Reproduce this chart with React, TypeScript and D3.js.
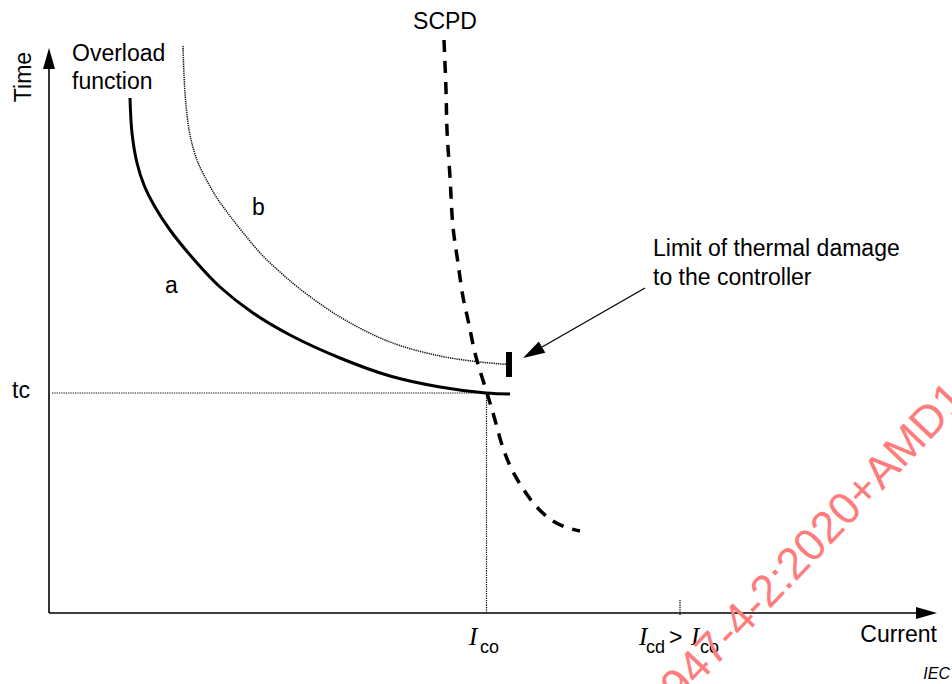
import React from "react";
import * as d3 from "d3";

// Schematic units: current (x) and time (y), origin at the axes' crossing
const curveA: [number, number][] = [
  [81, 515], [83, 480], [88, 450], [95, 428], [106, 406], [121, 383], [148, 350], [171, 326],
  [204, 300], [241, 278], [291, 255], [341, 237], [391, 226], [437, 220], [461, 219],
];
const curveB: [number, number][] = [
  [134, 567], [135, 538], [137, 508], [141, 478], [148, 453], [157, 434], [168, 415],
  [181, 397], [196, 378], [213, 358], [231, 341], [251, 324], [291, 296], [341, 271],
  [391, 257], [431, 251], [459, 248.5],
];
const scpd: [number, number][] = [
  [395, 573], [397, 523], [398, 483], [401, 436], [404, 386], [409, 350], [414, 316],
  [419, 293], [427, 256], [438, 220], [446, 193], [454, 165], [463, 143], [473, 126],
  [486, 108], [501, 94], [516, 86], [531, 82],
];
const tc = 220;
const Ico = 437.5;
const Icd = 631;
const limitX = 460;
const limitY: [number, number] = [236, 261];
const axisMax = { x: 888, y: 565 };

const FONT = "'Liberation Sans', Arial, Helvetica, sans-serif";
const SERIF = "'Liberation Serif', 'Times New Roman', serif";

export default function App() {
  const x = d3.scaleLinear().domain([0, axisMax.x]).range([49, 937]);
  const y = d3.scaleLinear().domain([0, axisMax.y]).range([613, 48]);
  const line = d3
    .line<[number, number]>()
    .x((d) => x(d[0]))
    .y((d) => y(d[1]))
    .curve(d3.curveCatmullRom.alpha(0.5));

  const x0 = x(0), y0 = y(0);
  const xe = x(axisMax.x), ye = y(axisMax.y);

  // arrow pointing to the limit bar
  const tip: [number, number] = [523, 358];
  const tail: [number, number] = [645, 288];
  const ang = Math.atan2(tail[1] - tip[1], tail[0] - tip[0]);
  const hl = 22, hw = 6.5;
  const bx = tip[0] + hl * Math.cos(ang), by = tip[1] + hl * Math.sin(ang);
  const head = `M${tip[0]},${tip[1]} L${bx + hw * Math.sin(ang)},${by - hw * Math.cos(ang)} L${bx - hw * Math.sin(ang)},${by + hw * Math.cos(ang)} Z`;

  const wmAngle = -46.5;
  const wmP: [number, number] = [697, 686];

  return (
    <svg
      width={952}
      height={684}
      style={{ position: "absolute", left: 0, top: 0, background: "#fff" }}
      fontFamily={FONT}
    >
      <rect x={0} y={0} width={952} height={684} fill="#fff" />
      {/* axes */}
      <line x1={x0} y1={y0} x2={x0} y2={ye + 18} stroke="#000" strokeWidth={1.6} />
      <path d={`M${x0},${ye} L${x0 - 6},${ye + 21} L${x0 + 6},${ye + 21} Z`} fill="#000" />
      <line x1={x0} y1={y0} x2={xe - 18} y2={y0} stroke="#000" strokeWidth={1.6} />
      <path d={`M${xe},${y0} L${xe - 21},${y0 - 6} L${xe - 21},${y0 + 6} Z`} fill="#000" />

      {/* reference dotted lines */}
      <line x1={x0 + 3} y1={y(tc)} x2={x(Ico)} y2={y(tc)} stroke="#111" strokeWidth={1.2} strokeDasharray="1.3 1" />
      <line x1={x(Ico)} y1={y(tc)} x2={x(Ico)} y2={y0} stroke="#111" strokeWidth={1.2} strokeDasharray="1.3 1" />
      <line x1={x(Icd)} y1={y0 - 13} x2={x(Icd)} y2={y0 + 2} stroke="#111" strokeWidth={1.3} strokeDasharray="1.3 1" />

      {/* curves */}
      <path d={line(curveB) || ""} fill="none" stroke="#111" strokeWidth={1.5} strokeDasharray="1.3 0.9" />
      <path d={line(curveA) || ""} fill="none" stroke="#000" strokeWidth={3} />
      <path d={line(scpd) || ""} fill="none" stroke="#000" strokeWidth={3.5} strokeDasharray="12 9" />

      {/* limit bar */}
      <rect x={x(limitX) - 3} y={y(limitY[1])} width={6} height={y(limitY[0]) - y(limitY[1])} fill="#000" />

      {/* annotation arrow */}
      <line x1={tail[0]} y1={tail[1]} x2={bx} y2={by} stroke="#000" strokeWidth={1.3} />
      <path d={head} fill="#000" />

      {/* texts */}
      <text transform="translate(31,77) rotate(-90)" textAnchor="middle" fontSize={23}>Time</text>
      <text x={72} y={61} fontSize={23}>Overload</text>
      <text x={72} y={89} fontSize={23}>function</text>
      <text x={445} y={29} fontSize={23} textAnchor="middle">SCPD</text>
      <text x={165} y={293} fontSize={23}>a</text>
      <text x={252} y={215} fontSize={23}>b</text>
      <text x={653} y={256} fontSize={23}>Limit of thermal damage</text>
      <text x={653} y={285} fontSize={23}>to the controller</text>
      <text x={12} y={398} fontSize={23}>tc</text>
      <text x={937} y={642} fontSize={23} textAnchor="end">Current</text>

      <text x={469} y={645} fontSize={25} fontFamily={SERIF} fontStyle="italic">I</text>
      <text x={480} y={653} fontSize={18}>co</text>

      <text x={639} y={645} fontSize={25} fontFamily={SERIF} fontStyle="italic">I</text>
      <text x={646} y={653} fontSize={18}>cd</text>
      <text x={669} y={645} fontSize={23}>&gt;</text>
      <text x={691} y={645} fontSize={25} fontFamily={SERIF} fontStyle="italic">I</text>
      <text x={700} y={653} fontSize={18}>co</text>

      <text x={950} y={679} fontSize={16} fontStyle="italic" textAnchor="end">IEC</text>

      {/* watermark */}
      <g transform={`translate(${wmP[0]},${wmP[1]}) rotate(${wmAngle})`} fill="#ff7c7c" fontSize={45}>
        <text x={0} y={0} textAnchor="end">IEC 609</text>
        <text x={0} y={0}>47-4-2:2020+AMD1:2024</text>
      </g>
    </svg>
  );
}
